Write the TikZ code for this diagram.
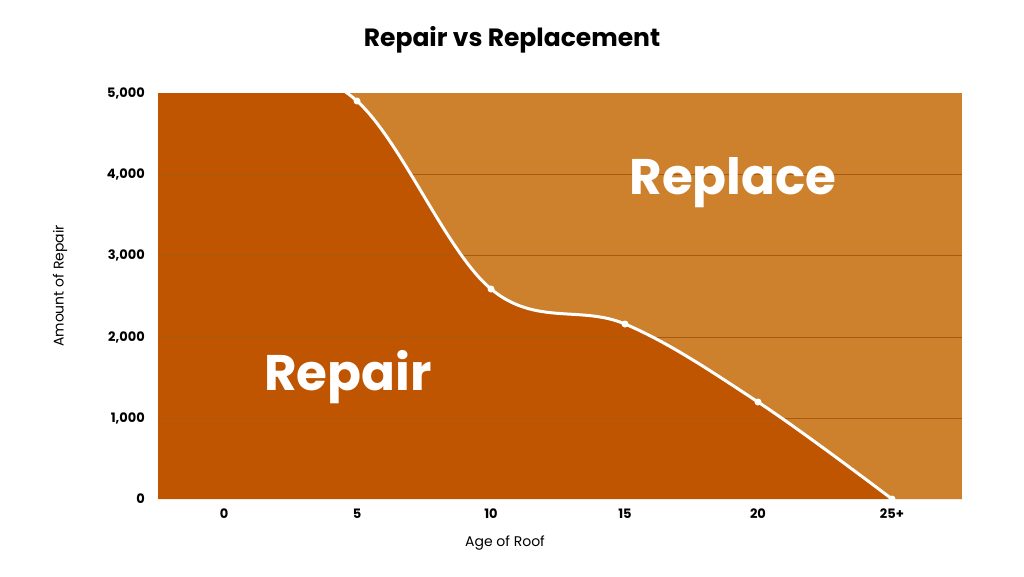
\documentclass[tikz,border=0pt]{standalone}
\usepackage{fontspec}
\setmainfont{Poppins}
\definecolor{repaircol}{HTML}{BF5500}
\definecolor{replacecol}{HTML}{CD812C}
\definecolor{gridcol}{HTML}{A85A10}
\tikzset{tick/.style={font=\bfseries\fontsize{13}{15}\selectfont, inner sep=0pt},
  big/.style={text=white, font=\bfseries\fontsize{50}{56}\selectfont},
  dot/.style={circle, fill=white, inner sep=0pt, minimum size=7pt}}
\begin{document}
\begin{tikzpicture}[x=1pt,y=-1pt]
\useasboundingbox (0,0) rectangle (1024,576);
% Plot area
	\fill[replacecol] (158,93) rectangle (962,499);
	\begin{scope}
	\clip (158,93) rectangle (962,499);
	\fill[repaircol] (158,40) -- (224,48)
	  -- plot[smooth, tension=0.6] coordinates {(224,48) (357,101) (491,289) (625,324) (758,402) (892,499)}
	  -- (962,499) -- (158,499) -- cycle;
	\foreach \Y in {174,255,337,418} \draw[gridcol, line width=0.5pt] (158,\Y) -- (962,\Y);
	\draw[white, line width=3pt] plot[smooth, tension=0.6] coordinates {(224,48) (357,101) (491,289) (625,324) (758,402) (892,499)};
	\end{scope}
% Markers
	\node[dot] (p1) at (357,101) {};
	\node[dot] (p2) at (491,289) {};
	\node[dot] (p3) at (625,324) {};
	\node[dot] (p4) at (758,402) {};
	\node[dot] (p5) at (892,499) {};
% Labels
	\node[big] (replace) at (733,183) {Replace};
	\node[big] (repair) at (348,377) {Repair};
	\node[font=\bfseries\fontsize{25}{30}\selectfont] (title) at (512,40) {Repair vs Replacement};
	\foreach \V/\Y [count=\i] in {0/499,{1,000}/418,{2,000}/337,{3,000}/255,{4,000}/174,{5,000}/93}
	  \node[tick, anchor=east] (ytick\i) at (145,\Y) {\V};
	\foreach \V/\X [count=\i] in {0/224,5/357,10/491,15/625,20/758,25+/892}
	  \node[tick] (xtick\i) at (\X,514) {\V};
	\node[font=\fontsize{14}{16}\selectfont, rotate=90] (ylabel) at (60,286) {Amount of Repair};
	\node[font=\fontsize{14}{16}\selectfont] (xlabel) at (505,543) {Age of Roof};
\end{tikzpicture}
\end{document}
